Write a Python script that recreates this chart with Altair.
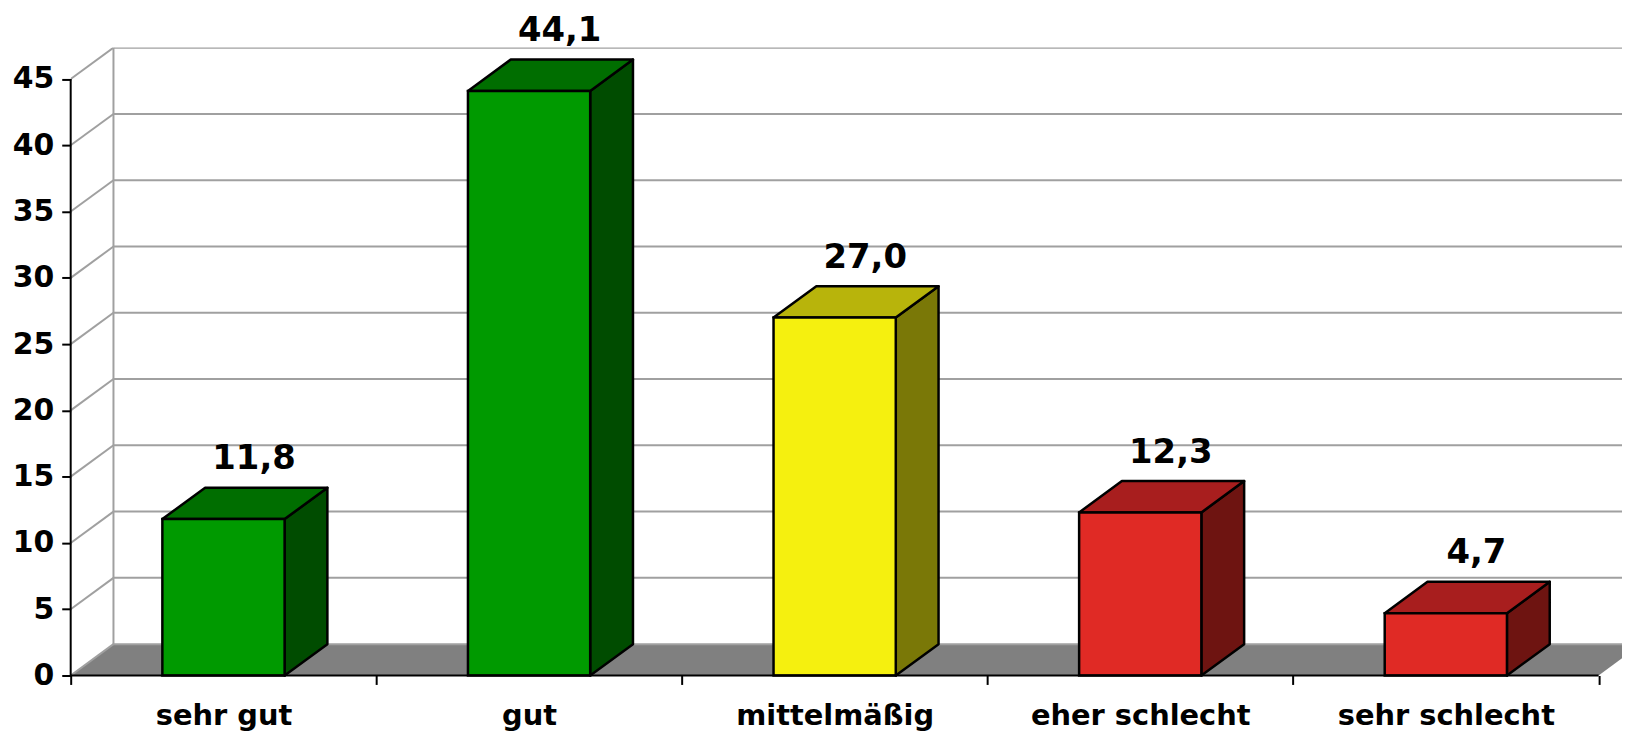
import json
import altair as alt
import pandas as pd

# ---- data ----
categories = ["sehr gut", "gut", "mittelmäßig", "eher schlecht", "sehr schlecht"]
values = [11.8, 44.1, 27.0, 12.3, 4.7]
front_colors = ["#009A00", "#009A00", "#F5F00F", "#E02A25", "#E02A25"]
top_colors = ["#006E00", "#006E00", "#B8B40B", "#A81E1E", "#A81E1E"]
side_colors = ["#004C00", "#004C00", "#7A7807", "#6E1411", "#6E1411"]
y_ticks = [0, 5, 10, 15, 20, 25, 30, 35, 40, 45]

# ---- 3D geometry (in scale units) ----
DX = 0.14      # depth offset along x
DY = 2.365     # depth offset along y
HALF = 0.2     # half width of bar front
X_MAX = 5.0765
Y_MAX = 47.37
W, H = 1559, 631
n = len(categories)
Y_TOP = max(y_ticks)

xs = alt.Scale(domain=[0, X_MAX], nice=False, zero=False)
ys = alt.Scale(domain=[0, Y_MAX], nice=False, zero=False)

label_expr = json.dumps(categories) + "[datum.value] || ''"
x_axis = alt.Axis(values=list(range(n + 1)), title=None, grid=False, domain=False,
                  tickSize=9, tickWidth=2, tickColor="black",
                  labelExpr=label_expr, labelOffset=0.5 * W / X_MAX,
                  labelPadding=40.7, labelBaseline="alphabetic", labelLimit=0,
                  labelFont="DejaVu Sans", labelFontSize=29, labelFontWeight="bold",
                  labelColor="black", labelFlush=False, labelOverlap=False)
y_axis = alt.Axis(values=y_ticks, title=None, grid=False, domain=False,
                  tickSize=9, tickWidth=2, tickColor="black", labelPadding=8,
                  labelFont="DejaVu Sans", labelFontSize=30, labelFontWeight="bold",
                  labelColor="black", labelFlush=False, labelOverlap=False)

# floor polygon
floor = pd.DataFrame({
    "x": [0, DX, n, n + DX],
    "lo": [0, 0, 0, DY],
    "hi": [0, DY, DY, DY],
})

# back wall grid
grid_rows = []
for v in y_ticks:
    grid_rows.append({"x": DX, "x2": X_MAX, "y": v + DY, "y2": v + DY})
    grid_rows.append({"x": 0, "x2": DX, "y": v, "y2": v + DY})
grid_rows.append({"x": DX, "x2": DX, "y": DY, "y2": Y_TOP + DY})
grid = pd.DataFrame(grid_rows)

# bar faces
poly_rows = []
front_rows = []
label_rows = []
for i, (c, v) in enumerate(zip(categories, values)):
    x0 = i + 0.5 - HALF
    x1 = i + 0.5 + HALF
    front_rows.append({"x": x0, "x2": x1, "y": 0, "y2": v, "fill": front_colors[i]})
    # side face
    poly_rows += [
        {"poly": f"s{i}", "x": x1, "lo": 0, "hi": v, "fill": side_colors[i]},
        {"poly": f"s{i}", "x": x1 + DX, "lo": DY, "hi": v + DY, "fill": side_colors[i]},
    ]
    # top face
    poly_rows += [
        {"poly": f"t{i}", "x": x0, "lo": v, "hi": v, "fill": top_colors[i]},
        {"poly": f"t{i}", "x": x0 + DX, "lo": v, "hi": v + DY, "fill": top_colors[i]},
        {"poly": f"t{i}", "x": x1, "lo": v, "hi": v + DY, "fill": top_colors[i]},
        {"poly": f"t{i}", "x": x1 + DX, "lo": v + DY, "hi": v + DY, "fill": top_colors[i]},
    ]
    label_rows.append({"x": i + 0.5 + 0.1, "y": v, "t": f"{v:.1f}".replace(".", ",")})
polys = pd.DataFrame(poly_rows)
fronts = pd.DataFrame(front_rows)
labels = pd.DataFrame(label_rows)

axes_lines = pd.DataFrame([
    {"x": 0, "x2": n, "y": 0, "y2": 0},
    {"x": 0, "x2": 0, "y": 0, "y2": Y_TOP},
])

X = lambda f: alt.X(f, type="quantitative", scale=xs, axis=x_axis)
Y = lambda f: alt.Y(f, type="quantitative", scale=ys, axis=y_axis, stack=None)

floor_layer = alt.Chart(floor).mark_area(color="#808080", clip=True).encode(
    x=X("x"), y=Y("lo"), y2="hi")

grid_layer = alt.Chart(grid).mark_rule(color="#A0A0A0", strokeWidth=2, clip=True).encode(
    x=X("x"), x2="x2", y=Y("y"), y2="y2")

poly_layer = alt.Chart(polys).mark_area(stroke="black", strokeWidth=2.5, strokeJoin="round").encode(
    x=X("x"), y=Y("lo"), y2="hi", detail="poly:N",
    fill=alt.Fill("fill:N", scale=None))

front_layer = alt.Chart(fronts).mark_rect(stroke="black", strokeWidth=2.5).encode(
    x=X("x"), x2="x2", y=Y("y"), y2="y2", fill=alt.Fill("fill:N", scale=None))

axis_layer = alt.Chart(axes_lines).mark_rule(color="black", strokeWidth=2).encode(
    x=X("x"), x2="x2", y=Y("y"), y2="y2")

text_layer = alt.Chart(labels).mark_text(
    font="DejaVu Sans", fontSize=34, fontWeight="bold", baseline="alphabetic",
    align="center", dy=-50, color="black").encode(
    x=X("x"), y=Y("y"), text="t:N")

chart = alt.layer(floor_layer, grid_layer, poly_layer, front_layer, axis_layer, text_layer).properties(
    width=W, height=H,
    autosize=alt.AutoSizeParams(type="none"),
    padding={"left": 63, "top": 38, "right": 0, "bottom": 54},
    background="white",
).configure_view(stroke=None)

chart.save("out.html", embed_options={"renderer": "svg", "actions": False})
